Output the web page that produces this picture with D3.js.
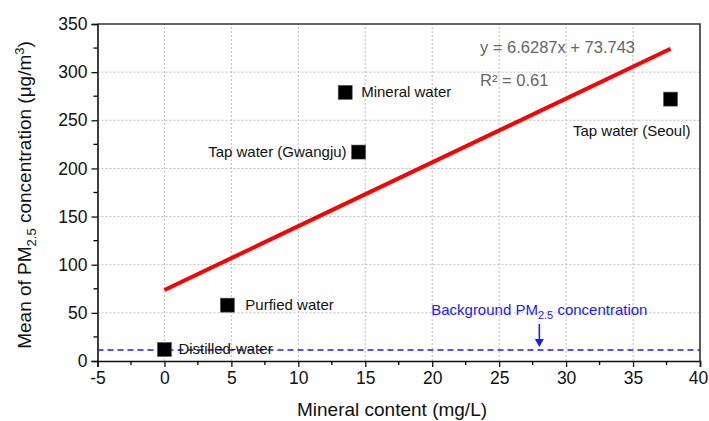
<!DOCTYPE html>
<html>
<head>
<meta charset="utf-8">
<script src="https://cdn.jsdelivr.net/npm/d3@7"></script>
<style>
  html, body { margin: 0; padding: 0; background: #fff; }
  svg { display: block; font-family: "Liberation Sans", Arial, sans-serif; }
</style>
</head>
<body>
<svg id="chart" width="709" height="421"></svg>
<script>
// Water samples: mineral content vs. mean PM2.5
const sampleNames = ["Distilled-water", "Purfied water", "Mineral water", "Tap water (Gwangju)", "Tap water (Seoul)"];
const mineralContent = [0, 4.7, 13.5, 14.5, 37.8];
const pmMean = [12, 58, 279, 217, 272];

// Linear fit reported on the chart
const fitSlope = 6.6287;
const fitIntercept = 73.743;
const fitR2 = 0.61;
const fitRange = [0, 37.8];

// Background level
const backgroundPM = 11.5;
const backgroundArrowX = 28;

const xTicks = [-5, 0, 5, 10, 15, 20, 25, 30, 35, 40];
const yTicks = [0, 50, 100, 150, 200, 250, 300, 350];

const svg = d3.select("#chart");
const margin = { left: 97.5, right: 9, top: 24, bottom: 60 };
const W = 709, H = 421;

const x = d3.scaleLinear().domain([-5, 40]).range([margin.left, W - margin.right]);
const y = d3.scaleLinear().domain([0, 350]).range([H - margin.bottom, margin.top]);

// Grid
const grid = svg.append("g");
grid.selectAll("line.vg").data(xTicks.filter(d => d > -5 && d < 40)).join("line")
  .attr("x1", d => x(d)).attr("x2", d => x(d))
  .attr("y1", y(0)).attr("y2", y(350))
  .attr("stroke", "#bdbdbd").attr("stroke-width", 1).attr("stroke-dasharray", "2,2");
grid.selectAll("line.hg").data(yTicks.filter(d => d > 0 && d < 350)).join("line")
  .attr("x1", x(-5)).attr("x2", x(40))
  .attr("y1", d => y(d)).attr("y2", d => y(d))
  .attr("stroke", "#bdbdbd").attr("stroke-width", 1).attr("stroke-dasharray", "2,2");

// Frame (top and right)
svg.append("path")
  .attr("d", `M${x(-5)},${y(350)}H${x(40)}V${y(0)}`)
  .attr("fill", "none").attr("stroke", "#333").attr("stroke-width", 1.6);

// Minor ticks
const xMinor = d3.range(-2.5, 40, 5);
const yMinor = d3.range(25, 350, 50);

const fmt = d => String(d); // plain hyphen for negatives

// X axis
const xAxis = svg.append("g").attr("transform", `translate(0,${y(0)})`)
  .call(d3.axisBottom(x).tickValues(xTicks).tickSize(6).tickPadding(5).tickFormat(fmt));
xAxis.selectAll(".minor").data(xMinor).join("line").attr("class", "minor")
  .attr("x1", d => x(d)).attr("x2", d => x(d)).attr("y1", 0).attr("y2", 4)
  .attr("stroke", "#000").attr("stroke-width", 1.3);

// Y axis
const yAxis = svg.append("g").attr("transform", `translate(${x(-5)},0)`)
  .call(d3.axisLeft(y).tickValues(yTicks).tickSize(6).tickPadding(4).tickFormat(fmt));
yAxis.selectAll(".minor").data(yMinor).join("line").attr("class", "minor")
  .attr("y1", d => y(d)).attr("y2", d => y(d)).attr("x1", 0).attr("x2", -4)
  .attr("stroke", "#000").attr("stroke-width", 1.3);

[xAxis, yAxis].forEach(a => {
  a.select(".domain").attr("stroke", "#111").attr("stroke-width", 1.6);
  a.selectAll(".tick line").attr("stroke", "#111").attr("stroke-width", 1.3);
  a.selectAll(".tick text").attr("fill", "#111").style("font-size", "17.5px")
    .style("font-family", "'Liberation Sans', Arial, sans-serif");
});
// keep the last x label inside the canvas
xAxis.selectAll(".tick text").filter(d => d === 40).attr("dx", -2);

// Axis titles
svg.append("text").attr("x", 392).attr("y", 416)
  .attr("text-anchor", "middle").attr("fill", "#111").style("font-size", "19px")
  .text("Mineral content (mg/L)");

const yTitle = svg.append("text")
  .attr("transform", `translate(31,195) rotate(-90)`)
  .attr("text-anchor", "middle").attr("fill", "#111").style("font-size", "19px");
yTitle.append("tspan").text("Mean of PM");
yTitle.append("tspan").attr("dy", 5).style("font-size", "13px").text("2.5");
yTitle.append("tspan").attr("dy", -5).text(" concentration (μg/m");
yTitle.append("tspan").attr("dy", -7).style("font-size", "13px").text("3");
yTitle.append("tspan").attr("dy", 7).text(")");

// Background line
svg.append("line")
  .attr("x1", x(-5)).attr("x2", x(40)).attr("y1", y(backgroundPM)).attr("y2", y(backgroundPM))
  .attr("stroke", "#1a1aff").attr("stroke-width", 1.6).attr("stroke-dasharray", "6,4");

// Background label and arrow
const bgText = svg.append("text")
  .attr("x", x(backgroundArrowX)).attr("y", y(backgroundPM) - 35)
  .attr("text-anchor", "middle").attr("fill", "#1a1aff").style("font-size", "15px");
bgText.append("tspan").text("Background PM");
bgText.append("tspan").attr("dy", 4).style("font-size", "11px").text("2.5");
bgText.append("tspan").attr("dy", -4).text(" concentration");

const ax = x(backgroundArrowX);
svg.append("line").attr("x1", ax).attr("x2", ax)
  .attr("y1", y(backgroundPM) - 26).attr("y2", y(backgroundPM) - 8)
  .attr("stroke", "#1a1aff").attr("stroke-width", 1.6);
svg.append("path")
  .attr("d", `M${ax - 4.5},${y(backgroundPM) - 11}L${ax + 4.5},${y(backgroundPM) - 11}L${ax},${y(backgroundPM) - 3}Z`)
  .attr("fill", "#1a1aff");

// Fit line
svg.append("line")
  .attr("x1", x(fitRange[0])).attr("y1", y(fitSlope * fitRange[0] + fitIntercept))
  .attr("x2", x(fitRange[1])).attr("y2", y(fitSlope * fitRange[1] + fitIntercept))
  .attr("stroke", "#f00").attr("stroke-width", 4);

// Equation text
svg.append("text").attr("x", 480).attr("y", 53).attr("fill", "#666").style("font-size", "16.5px")
  .text(`y = ${fitSlope}x + ${fitIntercept}`);
svg.append("text").attr("x", 480).attr("y", 86).attr("fill", "#666").style("font-size", "16.5px")
  .text(`R² = ${fitR2}`);

// Points
const pts = sampleNames.map((n, i) => ({ name: n, x: mineralContent[i], y: pmMean[i] }));
const sq = 14;
svg.selectAll("rect.pt").data(pts).join("rect").attr("class", "pt")
  .attr("x", d => x(d.x) - sq / 2).attr("y", d => y(d.y) - sq / 2)
  .attr("width", sq).attr("height", sq)
  .attr("fill", "#000").attr("stroke", "#555").attr("stroke-width", 0.6);

// Point labels: [dx, dy, anchor]
const labelPos = [
  [14, 5, "start"],
  [18, 5, "start"],
  [16, 5, "start"],
  [-12, 5, "end"],
  [20, 37, "end"]
];
svg.selectAll("text.lbl").data(pts).join("text").attr("class", "lbl")
  .attr("x", (d, i) => x(d.x) + labelPos[i][0])
  .attr("y", (d, i) => y(d.y) + labelPos[i][1])
  .attr("text-anchor", (d, i) => labelPos[i][2])
  .attr("fill", "#111").style("font-size", "15px")
  .text(d => d.name);
</script>
</body>
</html>
